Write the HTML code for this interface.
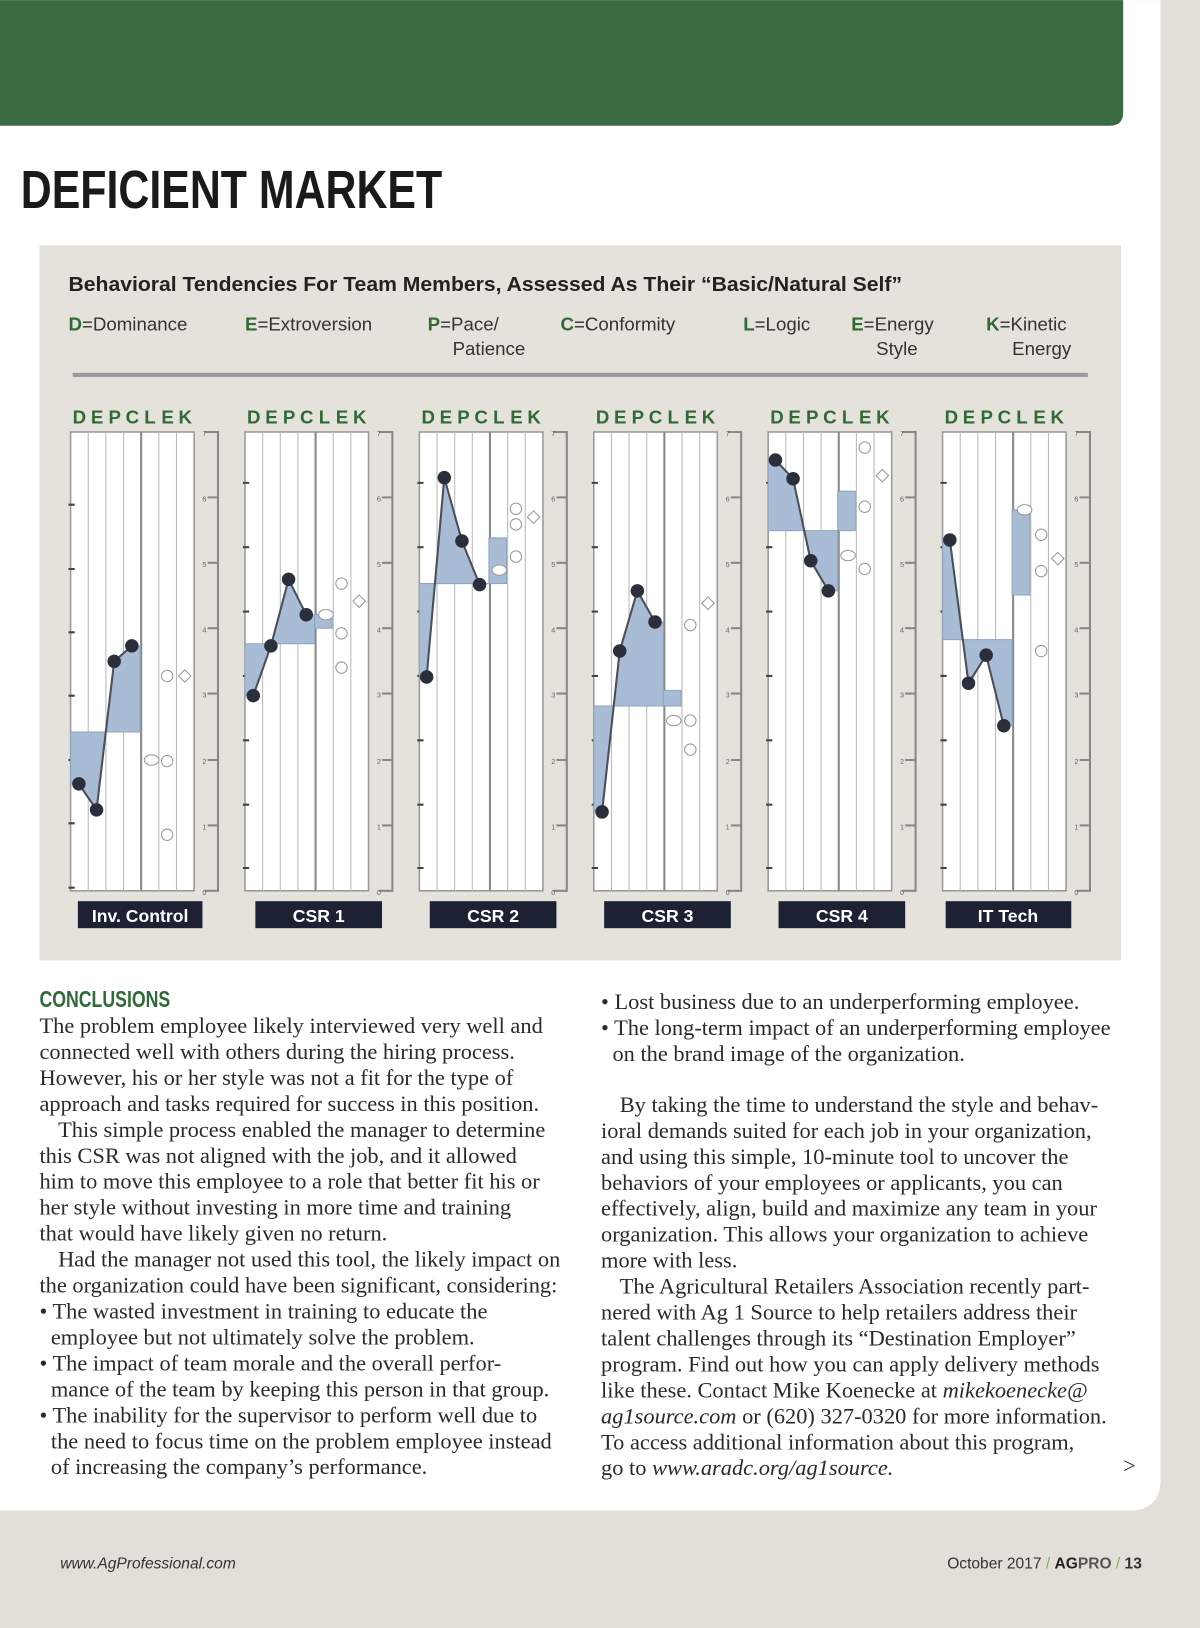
<!DOCTYPE html>
<html><head><meta charset="utf-8"><style>
html,body{margin:0;padding:0;background:#e2dfd8;}
svg{display:block;}
.s{font-family:"Liberation Serif",serif;font-size:21.6px;fill:#2a2a2a;}
.h{font-family:"Liberation Sans",sans-serif;}
.lg{font-family:"Liberation Sans",sans-serif;font-size:18px;fill:#333;}
.g{fill:#2f6a37;font-weight:bold;}
.dl{font-family:"Liberation Sans",sans-serif;font-size:18px;font-weight:bold;fill:#2f6a37;}
.ax{font-family:"Liberation Sans",sans-serif;font-size:7px;fill:#666;}
.lb{font-family:"Liberation Sans",sans-serif;font-size:17px;font-weight:bold;fill:#fff;}
</style></head><body>
<svg width="1200" height="1628" viewBox="0 0 1156 1568" xmlns="http://www.w3.org/2000/svg">
<rect width="1156" height="1568" fill="#e2dfd8"/>
<path d="M0 0H1118V1425Q1118 1455 1088 1455H0Z" fill="#fff"/>
<path d="M0 0H1082V108Q1082 121 1069 121H0Z" fill="#3a6a40"/>
<text x="20" y="200" class="h" font-size="52" font-weight="bold" fill="#1a1a1a" textLength="406" lengthAdjust="spacingAndGlyphs">DEFICIENT MARKET</text>
<rect x="38" y="236" width="1042" height="689" fill="#e5e2db"/>
<text x="66" y="280" class="h" font-size="20" font-weight="bold" fill="#222" textLength="803" lengthAdjust="spacingAndGlyphs">Behavioral Tendencies For Team Members, Assessed As Their “Basic/Natural Self”</text>
<text x="66" y="318" class="lg"><tspan class="g">D</tspan>=Dominance</text>
<text x="236" y="318" class="lg"><tspan class="g">E</tspan>=Extroversion</text>
<text x="412" y="318" class="lg"><tspan class="g">P</tspan>=Pace/</text>
<text x="436" y="342" class="lg">Patience</text>
<text x="540" y="318" class="lg"><tspan class="g">C</tspan>=Conformity</text>
<text x="716" y="318" class="lg"><tspan class="g">L</tspan>=Logic</text>
<text x="820" y="318" class="lg"><tspan class="g">E</tspan>=Energy</text>
<text x="844" y="342" class="lg">Style</text>
<text x="950" y="318" class="lg"><tspan class="g">K</tspan>=Kinetic</text>
<text x="975" y="342" class="lg">Energy</text>
<rect x="70" y="359" width="978" height="4" fill="#9a9a9a"/>

<g>
<text class="dl" x="76.5 93.5 110.5 127.5 144.5 161.5 178.5" y="408" text-anchor="middle">DEPCLEK</text>
<rect x="68" y="416" width="119" height="442" fill="#fff" stroke="#999" stroke-width="1.5"/>
<path d="M85 416V858M102 416V858M119 416V858M153 416V858M170 416V858" stroke="#b8b8b8"/>
<path d="M136 416V858" stroke="#888" stroke-width="2"/>
<path d="M197 416H210V858H197M200 479H210M200 542H210M200 605H210M200 668H210M200 732H210M200 795H210" stroke="#888" stroke-width="2" fill="none"/>
<text class="ax"><tspan x="195" y="420">7</tspan><tspan x="195" y="483">6</tspan><tspan x="195" y="546">5</tspan><tspan x="195" y="609">4</tspan><tspan x="195" y="672">3</tspan><tspan x="195" y="736">2</tspan><tspan x="195" y="799">1</tspan><tspan x="195" y="862">0</tspan></text>
<rect x="75" y="868" width="120" height="26" fill="#1c2233"/>
</g>
<path d="M66 486h6M66 548h6M66 609h6M66 670h6M66 732h6M66 793h6M66 855h6" stroke="#444" stroke-width="2"/>
<text class="lb" x="135" y="888" text-anchor="middle">Inv. Control</text>

<g transform="translate(168,0)">
<text class="dl" x="76.5 93.5 110.5 127.5 144.5 161.5 178.5" y="408" text-anchor="middle">DEPCLEK</text>
<rect x="68" y="416" width="119" height="442" fill="#fff" stroke="#999" stroke-width="1.5"/>
<path d="M85 416V858M102 416V858M119 416V858M153 416V858M170 416V858" stroke="#b8b8b8"/>
<path d="M136 416V858" stroke="#888" stroke-width="2"/>
<path d="M197 416H210V858H197M200 479H210M200 542H210M200 605H210M200 668H210M200 732H210M200 795H210" stroke="#888" stroke-width="2" fill="none"/>
<text class="ax"><tspan x="195" y="420">7</tspan><tspan x="195" y="483">6</tspan><tspan x="195" y="546">5</tspan><tspan x="195" y="609">4</tspan><tspan x="195" y="672">3</tspan><tspan x="195" y="736">2</tspan><tspan x="195" y="799">1</tspan><tspan x="195" y="862">0</tspan></text>
<rect x="78" y="868" width="122" height="26" fill="#1c2233"/>
<path d="M66 465h6M66 527h6M66 589h6M66 651h6M66 713h6M66 775h6M66 836h6" stroke="#444" stroke-width="2"/>
<text class="lb" x="139" y="888" text-anchor="middle">CSR 1</text>
</g>
<g transform="translate(336,0)">
<text class="dl" x="76.5 93.5 110.5 127.5 144.5 161.5 178.5" y="408" text-anchor="middle">DEPCLEK</text>
<rect x="68" y="416" width="119" height="442" fill="#fff" stroke="#999" stroke-width="1.5"/>
<path d="M85 416V858M102 416V858M119 416V858M153 416V858M170 416V858" stroke="#b8b8b8"/>
<path d="M136 416V858" stroke="#888" stroke-width="2"/>
<path d="M197 416H210V858H197M200 479H210M200 542H210M200 605H210M200 668H210M200 732H210M200 795H210" stroke="#888" stroke-width="2" fill="none"/>
<text class="ax"><tspan x="195" y="420">7</tspan><tspan x="195" y="483">6</tspan><tspan x="195" y="546">5</tspan><tspan x="195" y="609">4</tspan><tspan x="195" y="672">3</tspan><tspan x="195" y="736">2</tspan><tspan x="195" y="799">1</tspan><tspan x="195" y="862">0</tspan></text>
<rect x="78" y="868" width="122" height="26" fill="#1c2233"/>
<path d="M66 465h6M66 527h6M66 589h6M66 651h6M66 713h6M66 775h6M66 836h6" stroke="#444" stroke-width="2"/>
<text class="lb" x="139" y="888" text-anchor="middle">CSR 2</text>
</g>
<g transform="translate(504,0)">
<text class="dl" x="76.5 93.5 110.5 127.5 144.5 161.5 178.5" y="408" text-anchor="middle">DEPCLEK</text>
<rect x="68" y="416" width="119" height="442" fill="#fff" stroke="#999" stroke-width="1.5"/>
<path d="M85 416V858M102 416V858M119 416V858M153 416V858M170 416V858" stroke="#b8b8b8"/>
<path d="M136 416V858" stroke="#888" stroke-width="2"/>
<path d="M197 416H210V858H197M200 479H210M200 542H210M200 605H210M200 668H210M200 732H210M200 795H210" stroke="#888" stroke-width="2" fill="none"/>
<text class="ax"><tspan x="195" y="420">7</tspan><tspan x="195" y="483">6</tspan><tspan x="195" y="546">5</tspan><tspan x="195" y="609">4</tspan><tspan x="195" y="672">3</tspan><tspan x="195" y="736">2</tspan><tspan x="195" y="799">1</tspan><tspan x="195" y="862">0</tspan></text>
<rect x="78" y="868" width="122" height="26" fill="#1c2233"/>
<path d="M66 465h6M66 527h6M66 589h6M66 651h6M66 713h6M66 775h6M66 836h6" stroke="#444" stroke-width="2"/>
<text class="lb" x="139" y="888" text-anchor="middle">CSR 3</text>
</g>
<g transform="translate(672,0)">
<text class="dl" x="76.5 93.5 110.5 127.5 144.5 161.5 178.5" y="408" text-anchor="middle">DEPCLEK</text>
<rect x="68" y="416" width="119" height="442" fill="#fff" stroke="#999" stroke-width="1.5"/>
<path d="M85 416V858M102 416V858M119 416V858M153 416V858M170 416V858" stroke="#b8b8b8"/>
<path d="M136 416V858" stroke="#888" stroke-width="2"/>
<path d="M197 416H210V858H197M200 479H210M200 542H210M200 605H210M200 668H210M200 732H210M200 795H210" stroke="#888" stroke-width="2" fill="none"/>
<text class="ax"><tspan x="195" y="420">7</tspan><tspan x="195" y="483">6</tspan><tspan x="195" y="546">5</tspan><tspan x="195" y="609">4</tspan><tspan x="195" y="672">3</tspan><tspan x="195" y="736">2</tspan><tspan x="195" y="799">1</tspan><tspan x="195" y="862">0</tspan></text>
<rect x="78" y="868" width="122" height="26" fill="#1c2233"/>
<path d="M66 465h6M66 527h6M66 589h6M66 651h6M66 713h6M66 775h6M66 836h6" stroke="#444" stroke-width="2"/>
<text class="lb" x="139" y="888" text-anchor="middle">CSR 4</text>
</g>
<g transform="translate(840,0)">
<text class="dl" x="76.5 93.5 110.5 127.5 144.5 161.5 178.5" y="408" text-anchor="middle">DEPCLEK</text>
<rect x="68" y="416" width="119" height="442" fill="#fff" stroke="#999" stroke-width="1.5"/>
<path d="M85 416V858M102 416V858M119 416V858M153 416V858M170 416V858" stroke="#b8b8b8"/>
<path d="M136 416V858" stroke="#888" stroke-width="2"/>
<path d="M197 416H210V858H197M200 479H210M200 542H210M200 605H210M200 668H210M200 732H210M200 795H210" stroke="#888" stroke-width="2" fill="none"/>
<text class="ax"><tspan x="195" y="420">7</tspan><tspan x="195" y="483">6</tspan><tspan x="195" y="546">5</tspan><tspan x="195" y="609">4</tspan><tspan x="195" y="672">3</tspan><tspan x="195" y="736">2</tspan><tspan x="195" y="799">1</tspan><tspan x="195" y="862">0</tspan></text>
<rect x="71" y="868" width="121" height="26" fill="#1c2233"/>
<path d="M66 465h6M66 527h6M66 589h6M66 651h6M66 713h6M66 775h6M66 836h6" stroke="#444" stroke-width="2"/>
<text class="lb" x="131" y="888" text-anchor="middle">IT Tech</text>
</g>

<g fill="#a9bcd5" stroke="#8ea3bf" stroke-width="1">
<path d="M68 705H135V622H127L110 637L93 780L76 755H68Z"/>
<path d="M236 620H303V592H295L278 558L261 622L244 670H236Z"/>
<rect x="303" y="592" width="17" height="13"/>
<path d="M404 562H471V562L462 563L445 521L428 460L411 652H404Z"/>
<rect x="471" y="518" width="17" height="44"/>
<path d="M572 680H639V599H631L614 569L597 627L580 782H572Z"/>
<rect x="639" y="665" width="17" height="15"/>
<path d="M740 511H807V569H798L781 540L764 461L747 443H740Z"/>
<rect x="807" y="473" width="17" height="38"/>
<path d="M908 616H975V699H967L950 631L933 658L915 520H908Z"/>
<rect x="975" y="491" width="17" height="82"/>
</g>
<g fill="none" stroke="#4a4f5a" stroke-width="2">
<path d="M76 755L93 780L110 637L127 622"/>
<path d="M244 670L261 622L278 558L295 592"/>
<path d="M411 652L428 460L445 521L462 563"/>
<path d="M580 782L597 627L614 569L631 599"/>
<path d="M747 443L764 461L781 540L798 569"/>
<path d="M915 520L933 658L950 631L967 699"/>
</g>
<g fill="#2a2f3b">
<circle cx="76" cy="755" r="6.5"/><circle cx="93" cy="780" r="6.5"/><circle cx="110" cy="637" r="6.5"/><circle cx="127" cy="622" r="6.5"/>
<circle cx="244" cy="670" r="6.5"/><circle cx="261" cy="622" r="6.5"/><circle cx="278" cy="558" r="6.5"/><circle cx="295" cy="592" r="6.5"/>
<circle cx="411" cy="652" r="6.5"/><circle cx="428" cy="460" r="6.5"/><circle cx="445" cy="521" r="6.5"/><circle cx="462" cy="563" r="6.5"/>
<circle cx="580" cy="782" r="6.5"/><circle cx="597" cy="627" r="6.5"/><circle cx="614" cy="569" r="6.5"/><circle cx="631" cy="599" r="6.5"/>
<circle cx="747" cy="443" r="6.5"/><circle cx="764" cy="461" r="6.5"/><circle cx="781" cy="540" r="6.5"/><circle cx="798" cy="569" r="6.5"/>
<circle cx="915" cy="520" r="6.5"/><circle cx="933" cy="658" r="6.5"/><circle cx="950" cy="631" r="6.5"/><circle cx="967" cy="699" r="6.5"/>
</g>
<g fill="#fff" stroke="#999" stroke-width="1">
<ellipse cx="146" cy="732" rx="7" ry="5"/><circle cx="161" cy="651" r="5.5"/><circle cx="161" cy="733" r="5.5"/><circle cx="161" cy="804" r="5.5"/><path d="M178 645l6 6-6 6-6-6z"/>
<ellipse cx="314" cy="592" rx="7" ry="5"/><circle cx="329" cy="562" r="5.5"/><circle cx="329" cy="610" r="5.5"/><circle cx="329" cy="643" r="5.5"/><path d="M346 573l6 6-6 6-6-6z"/>
<ellipse cx="481" cy="549" rx="7" ry="5"/><circle cx="497" cy="490" r="5.5"/><circle cx="497" cy="505" r="5.5"/><circle cx="497" cy="536" r="5.5"/><path d="M514 492l6 6-6 6-6-6z"/>
<ellipse cx="649" cy="694" rx="7" ry="5"/><circle cx="665" cy="602" r="5.5"/><circle cx="665" cy="694" r="5.5"/><circle cx="665" cy="722" r="5.5"/><path d="M682 575l6 6-6 6-6-6z"/>
<ellipse cx="817" cy="535" rx="7" ry="5"/><circle cx="833" cy="431" r="5.5"/><circle cx="833" cy="488" r="5.5"/><circle cx="833" cy="548" r="5.5"/><path d="M850 452l6 6-6 6-6-6z"/>
<ellipse cx="987" cy="491" rx="7" ry="5"/><circle cx="1003" cy="515" r="5.5"/><circle cx="1003" cy="550" r="5.5"/><circle cx="1003" cy="627" r="5.5"/><path d="M1019 532l6 6-6 6-6-6z"/>
</g>

<text x="38" y="970" class="h" font-size="22" font-weight="bold" fill="#2f6a37" textLength="126" lengthAdjust="spacingAndGlyphs">CONCLUSIONS</text>
<g class="s">
<text x="38" y="995">The problem employee likely interviewed very well and</text>
<text x="38" y="1020">connected well with others during the hiring process.</text>
<text x="38" y="1045">However, his or her style was not a fit for the type of</text>
<text x="38" y="1070">approach and tasks required for success in this position.</text>
<text x="56" y="1095">This simple process enabled the manager to determine</text>
<text x="38" y="1120">this CSR was not aligned with the job, and it allowed</text>
<text x="38" y="1145">him to move this employee to a role that better fit his or</text>
<text x="38" y="1170">her style without investing in more time and training</text>
<text x="38" y="1195">that would have likely given no return.</text>
<text x="56" y="1220">Had the manager not used this tool, the likely impact on</text>
<text x="38" y="1245">the organization could have been significant, considering:</text>
<text x="38" y="1270">• The wasted investment in training to educate the</text>
<text x="49" y="1295">employee but not ultimately solve the problem.</text>
<text x="38" y="1320">• The impact of team morale and the overall perfor-</text>
<text x="49" y="1345">mance of the team by keeping this person in that group.</text>
<text x="38" y="1370">• The inability for the supervisor to perform well due to</text>
<text x="49" y="1395">the need to focus time on the problem employee instead</text>
<text x="49" y="1420">of increasing the company’s performance.</text>

<text x="579" y="972">• Lost business due to an underperforming employee.</text>
<text x="579" y="997">• The long-term impact of an underperforming employee</text>
<text x="590" y="1022">on the brand image of the organization.</text>
<text x="597" y="1071">By taking the time to understand the style and behav-</text>
<text x="579" y="1096">ioral demands suited for each job in your organization,</text>
<text x="579" y="1121">and using this simple, 10-minute tool to uncover the</text>
<text x="579" y="1146">behaviors of your employees or applicants, you can</text>
<text x="579" y="1171">effectively, align, build and maximize any team in your</text>
<text x="579" y="1196">organization. This allows your organization to achieve</text>
<text x="579" y="1221">more with less.</text>
<text x="597" y="1246">The Agricultural Retailers Association recently part-</text>
<text x="579" y="1271">nered with Ag 1 Source to help retailers address their</text>
<text x="579" y="1296">talent challenges through its “Destination Employer”</text>
<text x="579" y="1321">program. Find out how you can apply delivery methods</text>
<text x="579" y="1346">like these. Contact Mike Koenecke at <tspan font-style="italic">mikekoenecke@</tspan></text>
<text x="579" y="1371"><tspan font-style="italic">ag1source.com</tspan> or (620) 327-0320 for more information.</text>
<text x="579" y="1396">To access additional information about this program,</text>
<text x="579" y="1421">go to <tspan font-style="italic">www.aradc.org/ag1source.</tspan></text>
<text x="1082" y="1419">&gt;</text>
</g>

<text x="58" y="1511" class="h" font-size="15" font-style="italic" fill="#333">www.AgProfessional.com</text>
<text x="1100" y="1511" class="h" font-size="15" fill="#333" text-anchor="end">October 2017 <tspan fill="#7ab648">/</tspan> <tspan font-weight="bold" fill="#222">AG</tspan><tspan font-weight="bold" fill="#555">PRO</tspan> <tspan fill="#7ab648">/</tspan> <tspan font-weight="bold">13</tspan></text>
</svg>
</body></html>
